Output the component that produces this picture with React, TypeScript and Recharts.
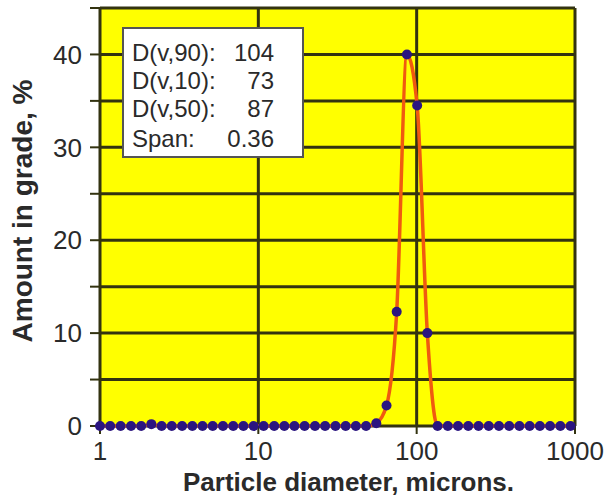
import { LineChart, Line, XAxis, YAxis, CartesianGrid, Label } from 'recharts';

// particle size classes (microns) and amount in each grade (%)
const diameters = [
  1, 1.16, 1.35, 1.57, 1.82, 2.11, 2.45, 2.84, 3.3, 3.83, 4.44, 5.15, 5.98, 6.94, 8.05, 9.34,
  10.8, 12.6, 14.6, 16.9, 19.6, 22.8, 26.4, 30.7, 35.6, 41.3, 47.9, 55.6, 64.5, 74.8, 86.8, 100.7,
  116.8, 135.6, 157.3, 182.5, 211.8, 245.8, 285.2, 330.9, 384, 445.6, 517, 600, 696, 808, 937,
];
const amounts = [
  0, 0, 0, 0, 0, 0.2, 0, 0, 0, 0, 0, 0, 0, 0, 0, 0,
  0, 0, 0, 0, 0, 0, 0, 0, 0, 0, 0, 0.3, 2.2, 12.3, 40, 34.5,
  10, 0, 0, 0, 0, 0, 0, 0, 0, 0, 0, 0, 0, 0, 0,
];
const xTicks = [1, 10, 100, 1000];
const yTicks = [0, 5, 10, 15, 20, 25, 30, 35, 40, 45];

const statLabels = ['D(v,90):', 'D(v,10):', 'D(v,50):', 'Span:'];
const statValues = ['104', '73', '87', '0.36'];

const data = diameters.map((d, i) => ({ d, v: amounts[i] }));

const font = '"Liberation Sans", Arial, sans-serif';
const ink = '#333310';
const text = '#2a2a2a';

export default function App() {
  return (
    <div style={{ position: 'absolute', left: 0, top: 0, width: 611, height: 497, background: '#fff', fontFamily: font }}>
      <LineChart width={611} height={497} data={data} margin={{ top: 8, right: 36, left: 0, bottom: 0 }}>
        <CartesianGrid stroke={ink} strokeWidth={3} fill="#ffff00" fillOpacity={1} />
        <XAxis
          dataKey="d"
          type="number"
          scale="log"
          domain={[1, 1000]}
          ticks={xTicks}
          height={71}
          axisLine={false}
          tickLine={{ stroke: ink, strokeWidth: 2 }}
          tickSize={8}
          tickMargin={8}
          tick={{ fill: text, fontSize: 26, fontFamily: font }}
        >
          <Label value="Particle diameter, microns." position="insideBottom" offset={6} dx={11}
            style={{ fill: text, fontSize: 26, fontWeight: 'bold', fontFamily: font }} />
        </XAxis>
        <YAxis
          type="number"
          domain={[0, 45]}
          ticks={yTicks}
          width={100}
          axisLine={false}
          tickLine={{ stroke: ink, strokeWidth: 2 }}
          tickSize={10}
          tickMargin={8}
          tickFormatter={(v: number) => (v % 10 === 0 && v < 45 ? String(v) : '')}
          tick={{ fill: text, fontSize: 26, fontFamily: font }}
        >
          <Label value="Amount in grade, %" angle={-90} position="insideLeft" offset={22} dy={-6}
            style={{ fill: text, fontSize: 28, fontWeight: 'bold', fontFamily: font, textAnchor: 'middle' }} />
        </YAxis>
        <Line
          type="monotone"
          dataKey="v"
          stroke="#f05a10"
          strokeWidth={3.5}
          dot={{ r: 5, fill: '#2b1580', stroke: 'none' }}
          activeDot={false}
          isAnimationActive={false}
        />
      </LineChart>
      <div
        style={{
          position: 'absolute',
          left: 122,
          top: 27,
          width: 182,
          height: 131,
          boxSizing: 'border-box',
          background: '#fff',
          border: '2px solid #555',
          padding: '10px 28px 0 8px',
          fontSize: 24,
          color: text,
        }}
      >
        {statLabels.map((l, i) => (
          <div key={l} style={{ display: 'flex', justifyContent: 'space-between', lineHeight: '28px', marginTop: i === 3 ? 2 : 0 }}>
            <span>{l}</span>
            <span>{statValues[i]}</span>
          </div>
        ))}
      </div>
    </div>
  );
}
